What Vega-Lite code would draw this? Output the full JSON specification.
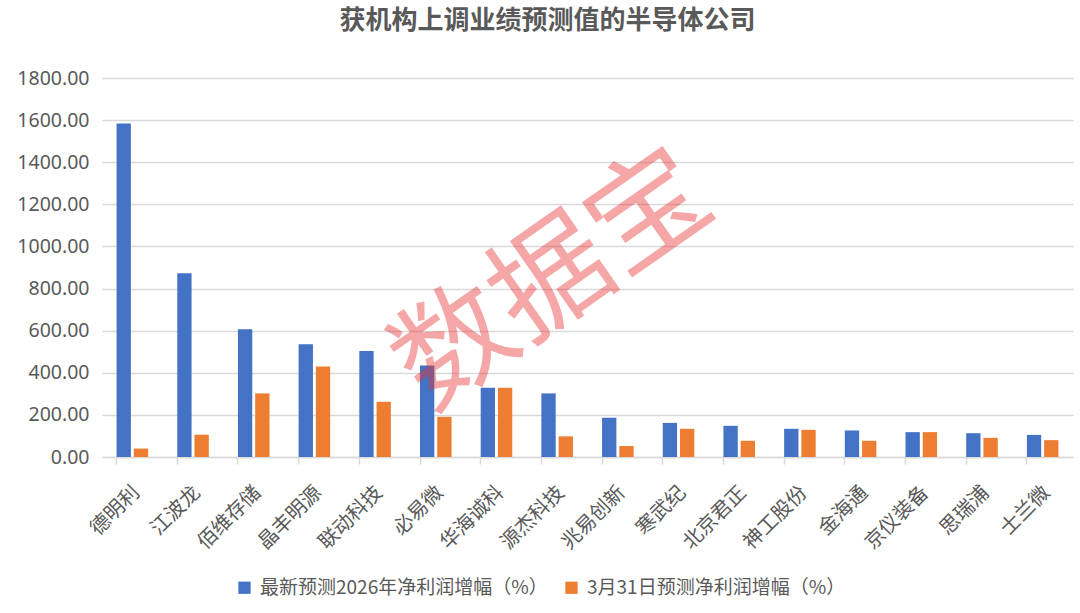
{
  "$schema": "https://vega.github.io/schema/vega-lite/v6.json",
  "autosize": {"type": "none"},
  "width": 971,
  "height": 379,
  "padding": {"left": 102, "top": 78, "right": 7, "bottom": 156},
  "background": "white",
  "config": {
    "font": "Noto Sans CJK SC",
    "view": {"stroke": null}
  },
  "title": {
    "text": "获机构上调业绩预测值的半导体公司",
    "fontSize": 26,
    "font": "Noto Sans CJK SC",
    "fontWeight": "bold",
    "color": "#595959",
    "anchor": "middle",
    "dx": -40,
    "offset": 34
  },
  "datasets": {
    "bars": [
      {"company": "德明利", "series": "最新预测2026年净利润增幅（%）", "value": 1584},
      {"company": "德明利", "series": "3月31日预测净利润增幅（%）", "value": 40},
      {"company": "江波龙", "series": "最新预测2026年净利润增幅（%）", "value": 873},
      {"company": "江波龙", "series": "3月31日预测净利润增幅（%）", "value": 106},
      {"company": "佰维存储", "series": "最新预测2026年净利润增幅（%）", "value": 607},
      {"company": "佰维存储", "series": "3月31日预测净利润增幅（%）", "value": 302},
      {"company": "晶丰明源", "series": "最新预测2026年净利润增幅（%）", "value": 536},
      {"company": "晶丰明源", "series": "3月31日预测净利润增幅（%）", "value": 430},
      {"company": "联动科技", "series": "最新预测2026年净利润增幅（%）", "value": 504},
      {"company": "联动科技", "series": "3月31日预测净利润增幅（%）", "value": 262},
      {"company": "必易微", "series": "最新预测2026年净利润增幅（%）", "value": 435},
      {"company": "必易微", "series": "3月31日预测净利润增幅（%）", "value": 191},
      {"company": "华海诚科", "series": "最新预测2026年净利润增幅（%）", "value": 329},
      {"company": "华海诚科", "series": "3月31日预测净利润增幅（%）", "value": 329},
      {"company": "源杰科技", "series": "最新预测2026年净利润增幅（%）", "value": 302},
      {"company": "源杰科技", "series": "3月31日预测净利润增幅（%）", "value": 98},
      {"company": "兆易创新", "series": "最新预测2026年净利润增幅（%）", "value": 187},
      {"company": "兆易创新", "series": "3月31日预测净利润增幅（%）", "value": 52},
      {"company": "寒武纪", "series": "最新预测2026年净利润增幅（%）", "value": 162},
      {"company": "寒武纪", "series": "3月31日预测净利润增幅（%）", "value": 134},
      {"company": "北京君正", "series": "最新预测2026年净利润增幅（%）", "value": 148},
      {"company": "北京君正", "series": "3月31日预测净利润增幅（%）", "value": 77},
      {"company": "神工股份", "series": "最新预测2026年净利润增幅（%）", "value": 134},
      {"company": "神工股份", "series": "3月31日预测净利润增幅（%）", "value": 129},
      {"company": "金海通", "series": "最新预测2026年净利润增幅（%）", "value": 126},
      {"company": "金海通", "series": "3月31日预测净利润增幅（%）", "value": 77},
      {"company": "京仪装备", "series": "最新预测2026年净利润增幅（%）", "value": 118},
      {"company": "京仪装备", "series": "3月31日预测净利润增幅（%）", "value": 118},
      {"company": "思瑞浦", "series": "最新预测2026年净利润增幅（%）", "value": 113},
      {"company": "思瑞浦", "series": "3月31日预测净利润增幅（%）", "value": 91},
      {"company": "士兰微", "series": "最新预测2026年净利润增幅（%）", "value": 105},
      {"company": "士兰微", "series": "3月31日预测净利润增幅（%）", "value": 80}
    ],
    "watermark": [
      {"label": "数据宝"}
    ]
  },
  "encoding": {
    "x": {
      "field": "company",
      "type": "nominal",
      "sort": null,
      "scale": {"paddingInner": 0.48, "paddingOuter": 0.24},
      "axis": {
        "title": null,
        "labelAngle": -45,
        "labelAlign": "right",
        "labelBaseline": "middle",
        "labelFontSize": 20,
        "labelColor": "#595959",
        "labelPadding": 25,
        "labelOffset": 4,
        "tickSize": 7,
        "tickColor": "#d9d9d9",
        "domainColor": "#d9d9d9",
        "domainWidth": 1.5,
        "tickWidth": 1.5,
        "bandPosition": 0,
        "grid": false
      }
    }
  },
  "layer": [
    {
      "data": {"name": "bars"},
      "mark": {"type": "bar"},
      "encoding": {
        "xOffset": {
          "field": "series",
          "type": "nominal",
          "sort": ["最新预测2026年净利润增幅（%）", "3月31日预测净利润增幅（%）"],
          "scale": {"paddingInner": 0.17}
        },
        "y": {
          "field": "value",
          "type": "quantitative",
          "scale": {"domain": [0, 1800], "nice": false},
          "axis": {
            "title": null,
            "values": [0, 200, 400, 600, 800, 1000, 1200, 1400, 1600, 1800],
            "format": ".2f",
            "labelFontSize": 19.5,
            "labelFont": "Noto Sans",
            "labelColor": "#595959",
            "labelPadding": 13,
            "ticks": false,
            "domain": false,
            "grid": true,
            "gridColor": "#d9d9d9",
            "gridWidth": 1.5
          }
        },
        "color": {
          "field": "series",
          "type": "nominal",
          "scale": {
            "domain": ["最新预测2026年净利润增幅（%）", "3月31日预测净利润增幅（%）"],
            "range": ["#4472C4", "#ED7D31"]
          },
          "legend": {
            "title": null,
            "orient": "none",
            "direction": "horizontal",
            "legendX": 133,
            "legendY": 500,
            "symbolType": "square",
            "symbolSize": 150,
            "symbolStrokeWidth": 0,
            "labelFontSize": 19,
            "labelColor": "#595959",
            "labelLimit": 0,
            "columnPadding": 14,
            "labelOffset": 6
          }
        }
      }
    },
    {
      "data": {"name": "watermark"},
      "mark": {
        "type": "text",
        "fontSize": 118,
        "angle": -35,
        "align": "center",
        "baseline": "middle",
        "color": "#e83030",
        "opacity": 0.42,
        "dx": -4
      },
      "encoding": {
        "x": {"datum": "源杰科技"},
        "y": {"datum": 841, "type": "quantitative"},
        "text": {"field": "label"}
      }
    }
  ]
}
